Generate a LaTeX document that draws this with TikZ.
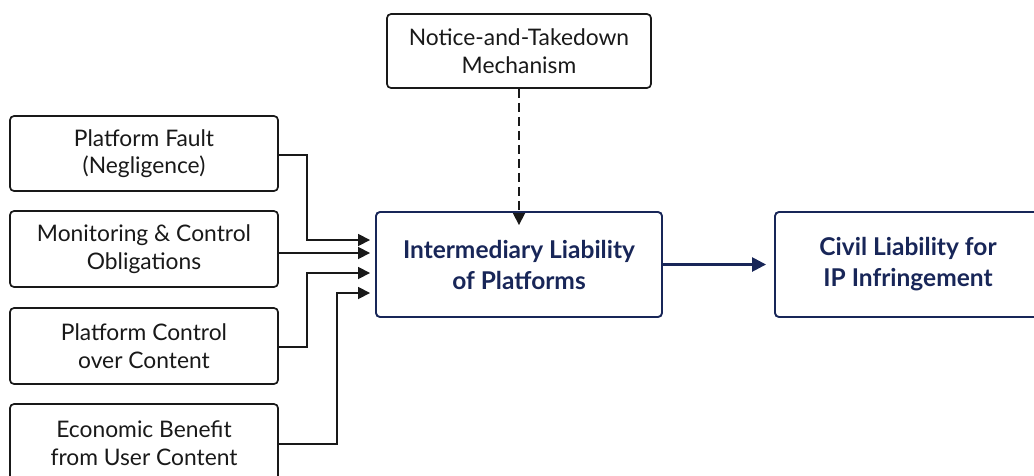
\documentclass[tikz,border=0pt]{standalone}
\usepackage{fontspec}
\setmainfont{Lato}
\usetikzlibrary{arrows.meta}
\definecolor{navy}{RGB}{24,38,88}
\definecolor{ink}{RGB}{25,25,25}
\begin{document}
\begin{tikzpicture}[x=1pt,y=-1pt,
  box/.style={draw=ink,line width=1.7pt,rounded corners=4pt,align=center,
    inner sep=0pt,font=\fontsize{22.8}{27.5}\selectfont,text=ink},
  mainbox/.style={draw=navy,line width=1.9pt,rounded corners=4pt,align=center,
    inner sep=0pt,font=\fontsize{24.5}{31}\selectfont\bfseries,text=navy},
  conn/.style={line width=1.7pt,draw=ink,-{Triangle[length=12pt,width=12pt]}},
]
\useasboundingbox (0,0) rectangle (1034,475);
\node[box,minimum width=264pt,minimum height=74pt] (notice) at (519,51) {Notice-and-Takedown\\Mechanism};
\node[box,minimum width=268pt,minimum height=75pt] (fault) at (144,153.5) {Platform Fault\\(Negligence)};
\node[box,minimum width=268pt,minimum height=76pt] (monitor) at (144,249) {Monitoring \& Control\\Obligations};
\node[box,minimum width=268pt,minimum height=76pt] (control) at (144,346) {Platform Control\\over Content};
\node[box,minimum width=268pt,minimum height=78pt] (benefit) at (144,443) {Economic Benefit\\from User Content};
\node[mainbox,minimum width=286pt,minimum height=105pt] (inter) at (519,264.5) {Intermediary Liability\\of Platforms};
\node[mainbox,minimum width=266pt,minimum height=105pt] (civil) at (908,264.5) {Civil Liability for\\IP Infringement};
\coordinate (i1) at (inter.west |- 0,240);
\coordinate (i2) at (inter.west |- 0,253);
\coordinate (i3) at (inter.west |- 0,273);
\coordinate (i4) at (inter.west |- 0,293);
\draw[conn] (fault.east |- 0,155) -| (307,240) -- ([xshift=-5pt]i1);
\draw[conn] (monitor.east |- 0,253) -- ([xshift=-5pt]i2);
\draw[conn] (control.east |- 0,347) -| (307,273) -- ([xshift=-5pt]i3);
\draw[conn] (benefit.east |- 0,444) -| (337,293) -- ([xshift=-5pt]i4);
\draw[conn,dashed,dash pattern=on 9pt off 5pt] (notice.south) -- ([yshift=-14pt]inter.north);
\draw[line width=2.6pt,draw=navy,-{Triangle[length=14pt,width=14pt]}] (inter.east) -- ([xshift=-8pt]civil.west);
\end{tikzpicture}
\end{document}
